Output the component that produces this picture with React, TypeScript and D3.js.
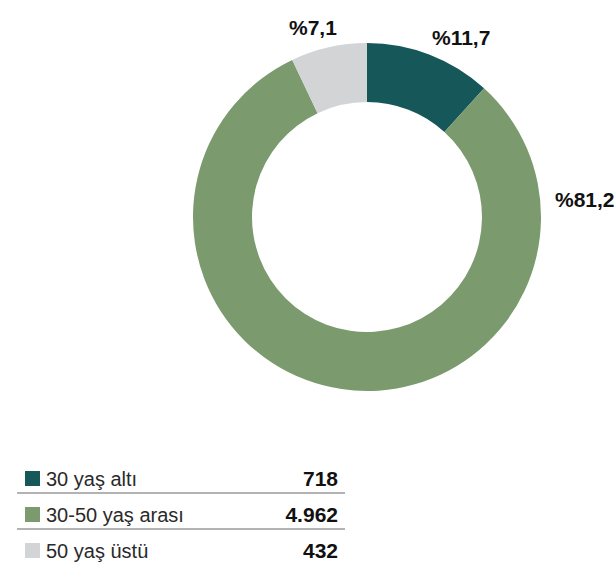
import React from 'react';
import * as d3 from 'd3';

// chart data
const categories = ['30 yaş altı', '30-50 yaş arası', '50 yaş üstü'];
const counts = [718, 4962, 432];
const countLabels = ['718', '4.962', '432'];
const percentLabels = ['%11,7', '%81,2', '%7,1'];
const colors = ['#16585a', '#7b9a6d', '#d3d4d6'];

const W = 616;
const H = 565;
const cx = 367;
const cy = 217;
const outerR = 174;
const innerR = 115;

// where the percentage labels sit (start anchor, baseline)
const labelPos = [
  { x: 432, y: 45 },
  { x: 555, y: 207 },
  { x: 289, y: 35 },
];

const App = () => {
  const pie = d3.pie<number>().sort(null).value(d => d)(counts);
  const arc = d3.arc<d3.PieArcDatum<number>>().innerRadius(innerR).outerRadius(outerR);

  const rowY = d3.scaleBand<number>().domain(d3.range(categories.length)).range([460, 568]);
  const font = '"Liberation Sans", Arial, sans-serif';

  return (
    <svg width={W} height={H} style={{ position: 'absolute', left: 0, top: 0, fontFamily: font }}>
      <rect width={W} height={H} fill="#fff" />
      <g transform={`translate(${cx},${cy})`}>
        {pie.map((p, i) => (
          <path key={i} d={arc(p) || ''} fill={colors[i]} />
        ))}
      </g>
      {pie.map((p, i) => (
        <text key={i} x={labelPos[i].x} y={labelPos[i].y}
          fontSize={21} fontWeight="bold" fill="#111">{percentLabels[i]}</text>
      ))}
      {categories.map((c, i) => {
        const y0 = rowY(i) || 0;
        const bw = rowY.bandwidth();
        return (
          <g key={c}>
            <rect x={25} y={y0 + 11} width={15} height={15} fill={colors[i]} />
            <text x={46} y={y0 + 26} fontSize={20} fill="#2a2a2a">{c}</text>
            <text x={338} y={y0 + 26} fontSize={21} fontWeight="bold" textAnchor="end" fill="#111">{countLabels[i]}</text>
            {i < categories.length - 1 && (
              <line x1={17} x2={345} y1={y0 + bw - 3} y2={y0 + bw - 3} stroke="#9a9a9a" strokeWidth={1.6} />
            )}
          </g>
        );
      })}
    </svg>
  );
};

export default App;
